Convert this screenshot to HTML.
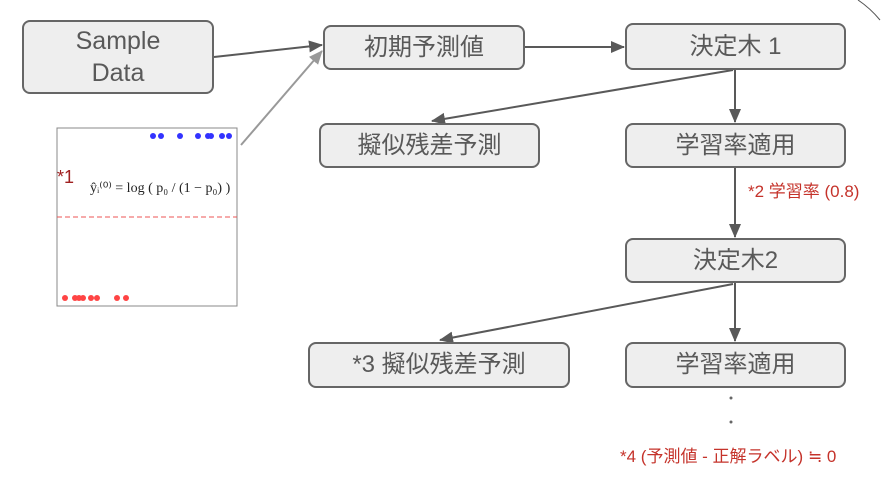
<!DOCTYPE html>
<html><head><meta charset="utf-8"><style>
body{margin:0;background:#fff;width:882px;height:482px;overflow:hidden;position:relative;font-family:"Liberation Sans","Noto Sans CJK JP",sans-serif}
.b{position:absolute;box-sizing:border-box;background:#eeeeee;border:2px solid #666;border-radius:8px;display:flex;align-items:center;justify-content:center;text-align:center;color:#595959;font-size:24px;line-height:1.3}
.r{position:absolute;color:#c5332b;font-size:17px;white-space:nowrap}
svg{position:absolute;left:0;top:0}
</style></head><body>
<svg width="882" height="482">
<defs><marker id="a" markerWidth="14" markerHeight="14" refX="13" refY="6" orient="auto" markerUnits="userSpaceOnUse"><path d="M0,0 L14,6 L0,12z" fill="#595959"/></marker>
<marker id="g" markerWidth="14" markerHeight="14" refX="13" refY="6" orient="auto" markerUnits="userSpaceOnUse"><path d="M0,0 L14,6 L0,12z" fill="#999"/></marker></defs>
<g stroke="#595959" stroke-width="2" fill="none">
<line x1="214" y1="57" x2="322" y2="45" marker-end="url(#a)"/>
<line x1="525" y1="47" x2="624" y2="47" marker-end="url(#a)"/>
<line x1="735" y1="70" x2="735" y2="122" marker-end="url(#a)"/>
<line x1="733" y1="70" x2="432" y2="121" marker-end="url(#a)"/>
<line x1="735" y1="168" x2="735" y2="237" marker-end="url(#a)"/>
<line x1="735" y1="283" x2="735" y2="341" marker-end="url(#a)"/>
<line x1="733" y1="284" x2="440" y2="340" marker-end="url(#a)"/>
</g>
<line x1="241" y1="145" x2="322" y2="51" stroke="#999" stroke-width="2" marker-end="url(#g)"/>
<path d="M858 0 Q870 8 880 20" stroke="#555" fill="none"/>
<circle cx="731" cy="398" r="1.5" fill="#666"/><circle cx="731" cy="422" r="1.5" fill="#666"/>
<rect x="57" y="128" width="180" height="178" fill="#fff" stroke="#888"/>
<line x1="57" y1="217" x2="237" y2="217" stroke="#e55" stroke-dasharray="5,3"/>
<g fill="#33f"><circle cx="153" cy="136" r="3"/><circle cx="161" cy="136" r="3"/><circle cx="180" cy="136" r="3"/><circle cx="198" cy="136" r="3"/><circle cx="208" cy="136" r="3"/><circle cx="211" cy="136" r="3"/><circle cx="222" cy="136" r="3"/><circle cx="229" cy="136" r="3"/></g>
<g fill="#f44"><circle cx="65" cy="298" r="3"/><circle cx="75" cy="298" r="3"/><circle cx="79" cy="298" r="3"/><circle cx="83" cy="298" r="3"/><circle cx="91" cy="298" r="3"/><circle cx="97" cy="298" r="3"/><circle cx="117" cy="298" r="3"/><circle cx="126" cy="298" r="3"/></g>
<text x="90" y="192" font-family="Liberation Serif" font-size="14" fill="#222">ŷᵢ⁽⁰⁾ = log ( p₀ / (1 − p₀) )</text>
</svg>
<div class="r" style="left:57px;top:167px;color:#a02020;font-size:18px">*1</div>
<div class="b" style="left:22px;top:20px;width:192px;height:74px;font-size:25px">Sample<br>Data</div>
<div class="b" style="left:323px;top:25px;width:202px;height:45px">初期予測値</div>
<div class="b" style="left:625px;top:23px;width:221px;height:47px">決定木 1</div>
<div class="b" style="left:319px;top:123px;width:221px;height:45px">擬似残差予測</div>
<div class="b" style="left:625px;top:123px;width:221px;height:45px">学習率適用</div>
<div class="b" style="left:625px;top:238px;width:221px;height:45px">決定木2</div>
<div class="b" style="left:308px;top:342px;width:262px;height:46px">*3 擬似残差予測</div>
<div class="b" style="left:625px;top:342px;width:221px;height:46px">学習率適用</div>
<div class="r" style="left:748px;top:177px">*2 学習率 (0.8)</div>
<div class="r" style="left:620px;top:442px">*4 (予測値 - 正解ラベル) ≒ 0</div>
</body></html>
